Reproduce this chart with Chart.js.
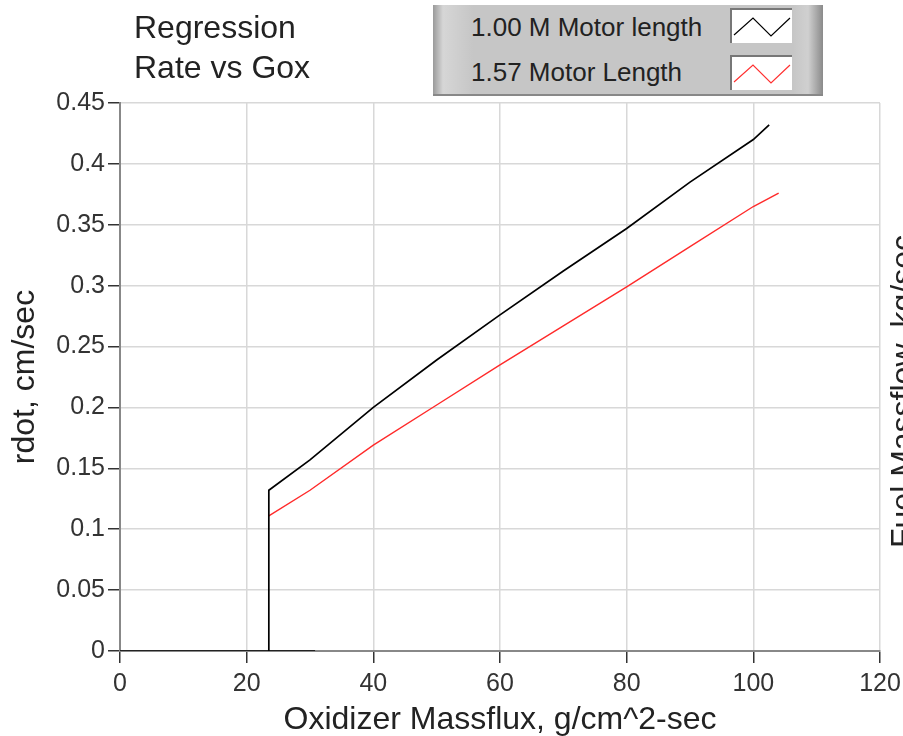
<!DOCTYPE html>
<html>
<head>
<meta charset="utf-8">
<script src="https://cdn.jsdelivr.net/npm/chart.js@4.4.1/dist/chart.umd.min.js"></script>
<style>
  body { margin: 0; background: #fff; font-family: "Liberation Sans", sans-serif; }
  #wrap { position: relative; width: 903px; height: 736px; overflow: hidden; }
  #title { position: absolute; left: 134px; top: 7px; font-size: 32px; line-height: 40px; color: #222; }
  #legend { position: absolute; left: 433px; top: 5px; width: 390px; height: 91px;
    background: linear-gradient(to right, #9a9a9a 0px, #d6d6d6 10px, #c6c6c6 40px, #c6c6c6 360px, #d0d0d0 375px, #8a8a8a 390px);
    border-bottom: 2px solid #888; box-sizing: border-box; }
  .row { position: absolute; left: 38px; font-size: 26px; color: #222; }
  .swatch { position: absolute; left: 297px; width: 62px; height: 35px; background: #fff;
    border-top: 2px solid #777; border-left: 2px solid #777; box-sizing: border-box; }
  #rlabel { position: absolute; left: 884px; top: 548px; transform: rotate(-90deg); transform-origin: left top;
    font-size: 32px; line-height: 36px; color: #222; white-space: nowrap; }
</style>
</head>
<body>
<div id="wrap">
  <canvas id="myChart" width="903" height="736"></canvas>
  <div id="title">Regression<br>Rate vs Gox</div>
  <div id="legend">
    <div class="row" style="top:7px">1.00 M Motor length</div>
    <div class="swatch" style="top:3px"><svg width="60" height="33"><polyline points="2,25 21,8 39,26 58,8" fill="none" stroke="#000" stroke-width="1.2"/></svg></div>
    <div class="row" style="top:52px">1.57 Motor Length</div>
    <div class="swatch" style="top:50px"><svg width="60" height="33"><polyline points="2,25 21,8 39,26 58,8" fill="none" stroke="#ff3030" stroke-width="1.2"/></svg></div>
  </div>
  <div id="rlabel">Fuel Massflow, kg/sec</div>
</div>
<script>
const xTicks = [0, 20, 40, 60, 80, 100, 120];
const yTicks = [0, 0.05, 0.1, 0.15, 0.2, 0.25, 0.3, 0.35, 0.4, 0.45];

// 1.00 M motor length (black)
const goxLong = [0, 23.5, 23.5, 30, 40, 50, 60, 70, 80, 90, 100, 102.5];
const rdotLong = [0, 0, 0.132, 0.157, 0.2, 0.239, 0.276, 0.312, 0.347, 0.385, 0.42, 0.432];
// tail of zero line after burnout
const goxZero = [23.5, 30.8];
const rdotZero = [0, 0];

// 1.57 motor length (red)
const goxShort = [23.5, 30, 40, 50, 60, 70, 80, 90, 100, 104];
const rdotShort = [0.111, 0.132, 0.169, 0.202, 0.235, 0.267, 0.299, 0.332, 0.365, 0.376];

const pts = (xs, ys) => xs.map((x, i) => ({ x: x, y: ys[i] }));

const tickFont = { family: "Liberation Sans", size: 25 };
const titleFont = { family: "Liberation Sans", size: 32 };

new Chart(document.getElementById("myChart"), {
    type: "line",
    data: {
        datasets: [
            { label: "1.00 M Motor length", data: pts(goxLong, rdotLong), borderColor: "#000", borderWidth: 1.7, pointRadius: 0, tension: 0 },
            { label: "zero", data: pts(goxZero, rdotZero), borderColor: "#000", borderWidth: 1.7, pointRadius: 0 },
            { label: "1.57 Motor Length", data: pts(goxShort, rdotShort), borderColor: "#ff2a2a", borderWidth: 1.4, pointRadius: 0, tension: 0 }
        ]
    },
    options: {
        responsive: false,
        animation: false,
        layout: { padding: { top: 103, right: 23, left: 6, bottom: 0 } },
        plugins: { legend: { display: false }, tooltip: { enabled: false } },
        scales: {
            x: {
                type: "linear", min: 0, max: 120,
                afterBuildTicks: (s) => { s.ticks = xTicks.map(v => ({ value: v })); },
                afterFit: (s) => { s.height = 85; s.paddingLeft = 0; s.paddingRight = 0; },
                ticks: { color: "#333", font: tickFont, padding: 6, maxRotation: 0 },
                grid: { color: "#d8d8d8", lineWidth: 1.5, tickLength: 12, tickColor: "#333", tickWidth: 1.5 },
                border: { color: "#888", width: 2 },
                title: { display: true, text: "Oxidizer Massflux, g/cm^2-sec", color: "#222", font: titleFont, padding: { top: 0, bottom: -3 } }
            },
            y: {
                type: "linear", min: 0, max: 0.45,
                afterBuildTicks: (s) => { s.ticks = yTicks.map(v => ({ value: v })); },
                afterFit: (s) => { s.width = 114; s.paddingTop = 0; s.paddingBottom = 0; },
                ticks: { color: "#333", font: tickFont, padding: 3, callback: (v) => String(Number(v.toFixed(2))) },
                grid: { color: "#d8d8d8", lineWidth: 1.5, tickLength: 12, tickColor: "#333", tickWidth: 1.5 },
                border: { color: "#888", width: 2 },
                title: { display: true, text: "rdot, cm/sec", color: "#222", font: titleFont, padding: { top: 0, bottom: 0 } }
            }
        }
    }
});
</script>
</body>
</html>
